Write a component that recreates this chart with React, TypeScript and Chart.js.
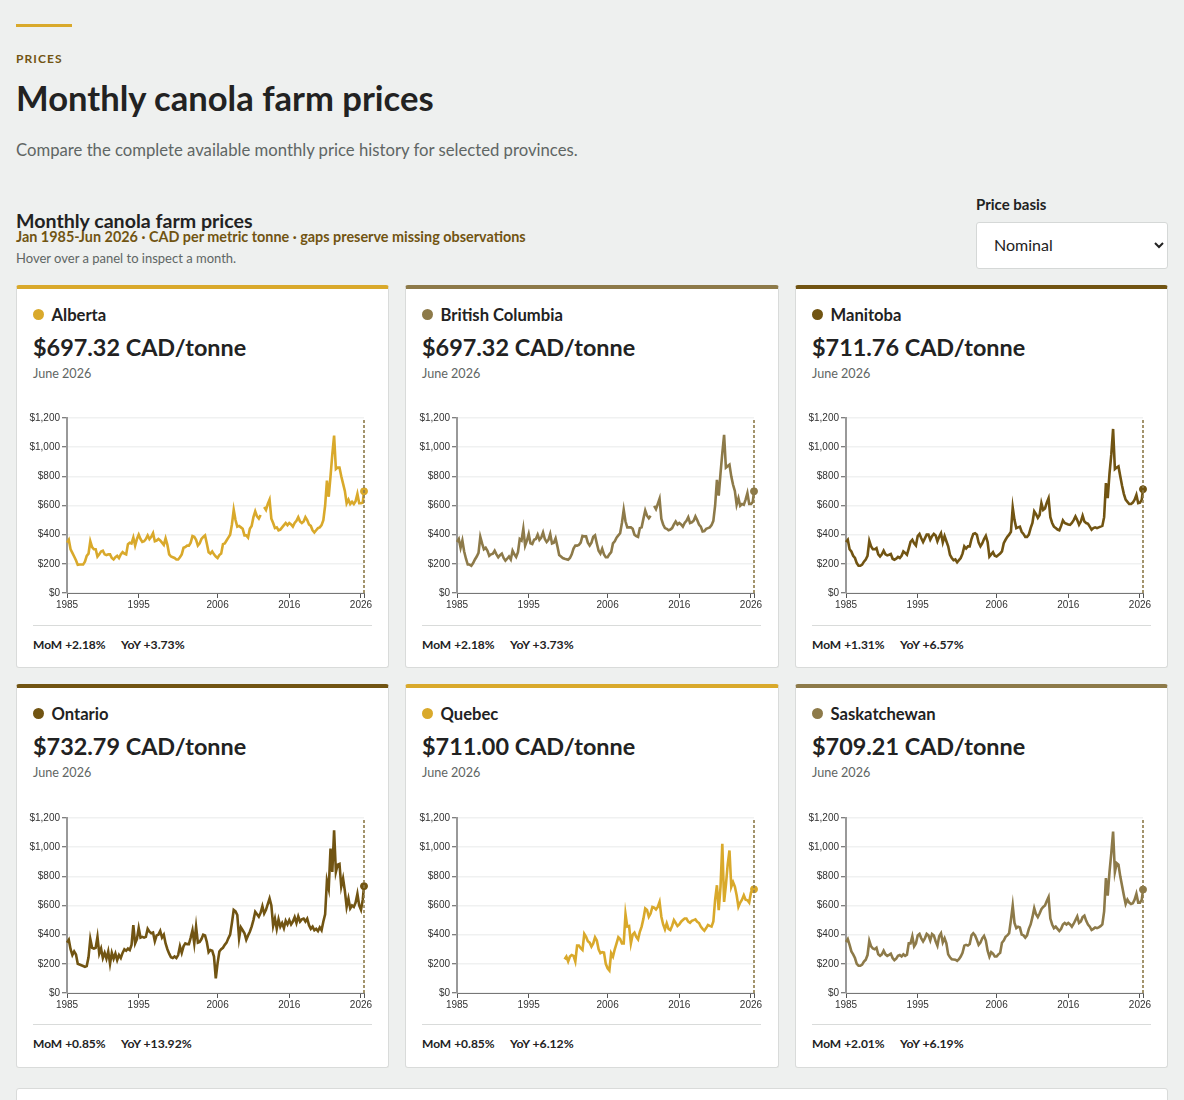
import { useEffect, useRef } from 'react';
import { Chart, registerables } from 'chart.js';

Chart.register(...registerables);

const GOLD = '#D9A92B';
const BROWN = '#8D7A49';
const DARK = '#715412';

// quarterly readings, last entry of each series is June 2026
const sampleYears: number[] = [];
for (let y = 1985; y <= 2026; y++) {
  for (const q of [0, 0.25, 0.5, 0.75]) {
    if (y === 2026 && q > 0.25) continue;
    sampleYears.push(y + q);
  }
}
sampleYears.push(2026.42);

const alberta = [
  345, 365, 300, 275,
  250, 225, 193, 195,
  195, 195, 215, 255,
  270, 355, 315, 300,
  300, 250, 265, 285,
  290, 265, 260, 265,
  265, 240, 230, 245,
  255, 240, 265, 280,
  270, 265, 335, 345,
  340, 380, 325, 370,
  400, 370, 350, 355,
  370, 395, 370, 385,
  410, 355, 360, 370,
  360, 345, 330, 375,
  330, 265, 250, 245,
  240, 230, 230, 245,
  265, 310, 315, 325,
  325, 345, 390, 385,
  365, 325, 340, 370,
  385, 395, 340, 280,
  270, 285, 265, 250,
  240, 260, 270, 335,
  340, 360, 380, 400,
  470, 570, 500, 455,
  460, 450, 440, 395,
  395, 380, 440, 460,
  520, 560, 525, 510,
  535, null, 590, 570,
  610, 640, 510, 480,
  445, 450, 430, 435,
  450, 465, 480, 465,
  480, 470, 455, 480,
  495, 520, 490, 480,
  490, 520, 500, 470,
  460, 430, 415, 430,
  445, 450, 465, 500,
  600, 770, 660, 800,
  950, 1080, 850, 860,
  860, 800, 750, 700,
  615, 640, 610, 625,
  610, 630, 680, 615,
  615, 620, 697.32,
];

const britishColumbia = [
  350, 370, 310, 360,
  285, 235, 195, 195,
  187, 205, 230, 250,
  275, 385, 340, 300,
  310, 290, 255, 265,
  270, 290, 265, 245,
  260, 270, 240, 222,
  235, 250, 230, 290,
  265, 247, 280, 370,
  360, 440, 325, 360,
  405, 340, 335, 365,
  370, 400, 365, 380,
  415, 370, 350, 365,
  405, 340, 345, 375,
  320, 260, 250, 240,
  235, 232, 228, 240,
  265, 305, 325, 325,
  330, 345, 392, 388,
  388, 345, 325, 345,
  385, 395, 340, 290,
  270, 303, 265, 245,
  245, 265, 280, 340,
  355, 380, 395, 410,
  480, 570, 490, 450,
  450, 450, 440, 400,
  390, 385, 445, 450,
  510, 566, 530, 513,
  530, null, 598, 575,
  610, 646, 509, 470,
  445, 440, 430, 435,
  445, 470, 490, 470,
  480, 470, 455, 480,
  495, 520, 480, 485,
  495, 525, 500, 470,
  455, 422, 425, 440,
  445, 450, 465, 495,
  600, 776, 667, 820,
  960, 1085, 860, 870,
  880, 800, 742, 700,
  605, 650, 598, 610,
  605, 640, 685, 610,
  610, 625, 697.32,
];

const manitoba = [
  350, 365, 300, 285,
  255, 240, 205, 187,
  187, 195, 215, 230,
  255, 358, 320, 300,
  300, 308, 265, 250,
  265, 290, 265, 258,
  262, 267, 235, 228,
  235, 247, 240, 255,
  285, 275, 262, 305,
  350, 365, 340, 325,
  390, 405, 375, 350,
  375, 400, 400, 365,
  390, 405, 395, 354,
  385, 410, 347, 390,
  355, 320, 262, 240,
  225, 230, 210, 225,
  240, 270, 320, 305,
  320, 320, 370, 405,
  410, 400, 345, 320,
  340, 370, 392, 350,
  250, 265, 280, 255,
  250, 260, 270, 285,
  342, 365, 385, 400,
  420, 587, 500, 445,
  450, 455, 420, 405,
  385, 385, 400, 445,
  480, 560, 540, 515,
  535, 616, 570, 580,
  620, 650, 520, 480,
  455, 445, 435, 430,
  460, 498, 480, 475,
  470, 468, 480, 500,
  525, 500, 468, 490,
  530, 490, 480, 475,
  455, 434, 445, 450,
  445, 450, 455, 460,
  520, 753, 650, 820,
  950, 1125, 850, 860,
  868, 800, 735, 680,
  640, 625, 610, 610,
  620, 640, 673, 616,
  620, 640, 711.76,
];

const ontario = [
  345, 365, 300, 260,
  285, 265, 200, 195,
  190, 185, 180, 185,
  245, 370, 310, 305,
  310, 385, 270, 305,
  240, 275, 235, 285,
  200, 275, 235, 270,
  225, 260, 240, 275,
  300, 290, 305, 295,
  330, 465, 340, 370,
  445, 380, 385, 380,
  385, 440, 420, 410,
  415, 355, 395, 400,
  425, 380, 400, 340,
  300, 270, 245, 240,
  250, 240, 260, 320,
  275, 320, 340, 335,
  335, 380, 430, 340,
  455, 345, 350, 370,
  400, 395, 350, 280,
  295, 290, 250, 100,
  205, 285, 300, 310,
  330, 345, 375, 400,
  480, 570, 560, 535,
  375, 450, 430, 410,
  365, 395, 420, 455,
  500, 557, 540, 523,
  550, 595, 545, 570,
  610, 648, 600, 460,
  510, 440, 505, 455,
  480, 445, 495, 470,
  500, 470, 490, 520,
  480, 525, 490, 505,
  510, 490, 510, 465,
  440, 455, 430, 440,
  425, 450, 430, 490,
  540, 770, 715, 990,
  830, 1115, 830, 880,
  885, 730, 785, 700,
  590, 648, 580, 600,
  590, 620, 680, 600,
  570, 640, 732.79,
];

const quebec = [
  null, null, null, null, null, null, null, null, null, null, null, null,
  null, null, null, null, null, null, null, null, null, null, null, null,
  null, null, null, null, null, null, null, null, null, null, null, null,
  null, null, null, null, null, null, null, null, null, null, null, null,
  null, null, null, null, null, null, null, null, null, null, null, null,
  232, 250, 216, 250,
  261, 255, 216, 325,
  325, 307, 295, 405,
  385, 355, 345, 318,
  340, 382, 360, 300,
  273, 280, 277, 200,
  170, 155, 273, 250,
  300, 340, 382, 370,
  340, 340, 541, 455,
  459, 340, 400, 414,
  385, 368, 420, 455,
  510, 580, 570, 523,
  545, 590, 585, 573,
  590, 625, 523, 470,
  436, 477, 440, 432,
  460, 500, 480, 459,
  470, 489, 500, 511,
  511, 490, 482, 495,
  500, 505, 489, 480,
  455, 440, 427, 445,
  466, 460, 455, 490,
  640, 739, 568, 727,
  1023, 625, 739, 880,
  977, 727, 760, 730,
  670, 591, 620, 640,
  670, 640, 636, 620,
  690, 705, 711.0,
];

const saskatchewan = [
  350, 370, 330, 285,
  265, 240, 200, 187,
  187, 195, 215, 228,
  260, 358, 320, 305,
  300, 310, 265, 255,
  265, 290, 265, 255,
  262, 270, 240, 225,
  235, 255, 260, 250,
  265, 255, 262, 340,
  340, 388, 320, 340,
  395, 405, 375, 354,
  375, 405, 395, 360,
  405, 395, 355, 325,
  390, 410, 347, 375,
  340, 265, 245, 232,
  230, 228, 220, 232,
  250, 275, 325, 330,
  325, 335, 395, 410,
  395, 365, 330, 345,
  375, 392, 360, 290,
  250, 280, 270, 250,
  250, 265, 275, 345,
  360, 385, 395, 410,
  500, 600, 480, 445,
  455, 450, 400, 395,
  380, 395, 440, 470,
  520, 582, 540, 520,
  545, 575, 590, 600,
  630, 657, 510, 470,
  445, 455, 440, 425,
  440, 470, 480, 470,
  480, 470, 455, 475,
  500, 525, 480, 490,
  520, 530, 495, 470,
  455, 432, 440, 450,
  445, 450, 458, 470,
  560, 788, 667, 830,
  960, 1107, 830, 890,
  880, 800, 735, 670,
  610, 640, 620, 610,
  615, 640, 680, 620,
  620, 640, 709.21,
];

const provinces = ['Alberta', 'British Columbia', 'Manitoba', 'Ontario', 'Quebec', 'Saskatchewan'];
const seriesList = [alberta, britishColumbia, manitoba, ontario, quebec, saskatchewan];
const colors = [GOLD, BROWN, DARK, DARK, GOLD, BROWN];
const latestPrices = ['$697.32', '$697.32', '$711.76', '$732.79', '$711.00', '$709.21'];
const momChanges = ['+2.18%', '+2.18%', '+1.31%', '+0.85%', '+0.85%', '+2.01%'];
const yoyChanges = ['+3.73%', '+3.73%', '+6.57%', '+13.92%', '+6.12%', '+6.19%'];
const xTicks = [1985, 1995, 2006, 2016, 2026, 2026.42];
const yTicks = [0, 200, 400, 600, 800, 1000, 1200];

const UI_FONT = 'Lato, sans-serif';
const cardLefts = [16, 405, 795];
const canvasLefts = [25, 415, 804];
const rowTops = [285, 684];
const canvasTops = [400, 800];

function PriceChart({ values, color }: { values: (number | null)[]; color: string }) {
  const canvasRef = useRef<HTMLCanvasElement>(null);

  useEffect(() => {
    if (!canvasRef.current) return;
    const lastX = sampleYears[sampleYears.length - 1];
    const lastY = values[values.length - 1];
    const chart = new Chart(canvasRef.current, {
      type: 'line',
      data: {
        datasets: [
          {
            data: [{ x: lastX, y: 0 }, { x: lastX, y: 1200 }],
            borderColor: BROWN,
            borderWidth: 1.6,
            borderDash: [3, 2],
            pointRadius: 0,
            clip: false,
          },
          {
            data: values.map((v, i) => ({ x: sampleYears[i], y: v })),
            borderColor: color,
            borderWidth: 2.6,
            pointRadius: 0,
            tension: 0,
            spanGaps: false,
            clip: false,
          },
          {
            data: [{ x: lastX, y: lastY }],
            borderColor: color,
            backgroundColor: color,
            pointRadius: 3.5,
            showLine: false,
            clip: false,
          },
        ],
      },
      options: {
        animation: false,
        responsive: false,
        maintainAspectRatio: false,
        layout: { padding: { top: 18, right: 8, left: 0, bottom: 0 } },
        plugins: { legend: { display: false }, tooltip: { enabled: false } },
        scales: {
          x: {
            type: 'linear',
            min: 1985,
            max: lastX,
            afterBuildTicks: (axis: any) => {
              axis.ticks = xTicks.map(value => ({ value }));
            },
            afterFit: (axis: any) => {
              axis.height = 17;
            },
            grid: { display: true, drawOnChartArea: false, tickLength: 5, tickColor: '#555', tickWidth: 1 },
            border: { color: '#777', width: 1 },
            ticks: {
              autoSkip: false,
              maxRotation: 0,
              padding: 1,
              color: '#333',
              font: { family: 'Liberation Sans', size: 10 },
              callback: (value: any) => (value === lastX ? '' : String(value)),
            },
          },
          y: {
            min: 0,
            max: 1200,
            afterBuildTicks: (axis: any) => {
              axis.ticks = yTicks.map(value => ({ value }));
            },
            afterFit: (axis: any) => {
              axis.width = 42;
            },
            grid: { color: '#F0F1F1', lineWidth: 1.5, tickLength: 5, tickColor: '#555', tickWidth: 1 },
            border: { color: '#999', width: 2 },
            ticks: {
              padding: 2,
              color: '#333',
              font: { family: 'Liberation Sans', size: 10 },
              callback: (value: any) => '$' + Number(value).toLocaleString('en-US'),
            },
          },
        },
      },
    } as any);
    return () => chart.destroy();
  }, [values, color]);

  return <canvas ref={canvasRef} width={347} height={210} style={{ display: 'block', width: 347, height: 210 }} />;
}

const textAt = (left: number, top: number, size: number, color: string, weight = 400): React.CSSProperties => ({
  position: 'absolute',
  left,
  top,
  fontSize: size,
  color,
  fontWeight: weight,
  lineHeight: 1,
  whiteSpace: 'nowrap',
});

export default function App() {
  return (
    <div style={{ position: 'relative', width: 1184, height: 1100, overflow: 'hidden', background: '#EEF0EF', fontFamily: UI_FONT }}>
      <style>{'html,body{margin:0;padding:0;overflow:hidden}'}</style>
      <div style={{ position: 'absolute', left: 16, top: 24, width: 56, height: 3, background: GOLD }} />
      <div style={{ ...textAt(16, 53, 12, '#715412', 700), letterSpacing: 1.1 }}>PRICES</div>
      <h1 style={{ ...textAt(16, 81, 34.6, '#222', 700), margin: 0 }}>Monthly canola farm prices</h1>
      <div style={textAt(16, 142, 16.7, '#5f6664')}>Compare the complete available monthly price history for selected provinces.</div>
      <h2 style={{ ...textAt(16, 211, 19.6, '#222', 700), margin: 0 }}>Monthly canola farm prices</h2>
      <div style={textAt(16, 230, 14.4, '#715412', 700)}>Jan 1985-Jun 2026 · CAD per metric tonne · gaps preserve missing observations</div>
      <div style={textAt(16, 252, 13, '#5f6664')}>Hover over a panel to inspect a month.</div>
      <div style={textAt(976, 197, 15, '#222', 700)}>Price basis</div>
      <select
        defaultValue="Nominal"
        style={{
          position: 'absolute',
          left: 976,
          top: 222,
          width: 192,
          height: 47,
          padding: '0 0 2px 13px',
          fontFamily: UI_FONT,
          fontSize: 16,
          color: '#222',
          background: '#fff',
          border: '1px solid #D5D8D7',
          borderRadius: 3,
        }}
      >
        <option>Nominal</option>
      </select>

      {provinces.map((name, i) => {
        const col = i % 3;
        const row = Math.floor(i / 3);
        const left = cardLefts[col];
        const top = rowTops[row];
        return (
          <div key={name}>
            <div
              style={{
                position: 'absolute',
                left,
                top,
                width: col === 1 ? 374 : 373,
                height: 383 + row,
                boxSizing: 'border-box',
                background: '#fff',
                borderTop: `4px solid ${colors[i]}`,
                borderLeft: '1px solid #D9DBDA',
                borderRight: '1px solid #D9DBDA',
                borderBottom: '1px solid #D9DBDA',
                borderRadius: 3,
              }}
            />
            <div style={{ position: 'absolute', left: left + 17, top: top + 24, width: 11, height: 11, borderRadius: 6, background: colors[i] }} />
            <div style={textAt(left + 35.5, top + 22, 16.6, '#222', 700)}>{name}</div>
            <div style={textAt(left + 17, top + 51, 23.4, '#222', 700)}>{latestPrices[i]} CAD/tonne</div>
            <div style={textAt(left + 17, top + 83, 12.6, '#5f6664')}>June 2026</div>
            <div style={{ position: 'absolute', left: canvasLefts[col], top: canvasTops[row] }}>
              <PriceChart values={seriesList[i]} color={colors[i]} />
            </div>
            <div style={{ position: 'absolute', left: left + 17, top: top + 340, width: 339, height: 1, background: '#D9DBDA' }} />
            <div style={textAt(left + 17, top + 354, 12, '#222', 700)}>MoM {momChanges[i]}</div>
            <div style={textAt(left + 105, top + 354, 12.2, '#222', 700)}>YoY {yoyChanges[i]}</div>
          </div>
        );
      })}

      <div style={{ position: 'absolute', left: 16, top: 1088, width: 1152, height: 40, boxSizing: 'border-box', background: '#fff', border: '1px solid #D9DBDA', borderRadius: 3 }} />
    </div>
  );
}
